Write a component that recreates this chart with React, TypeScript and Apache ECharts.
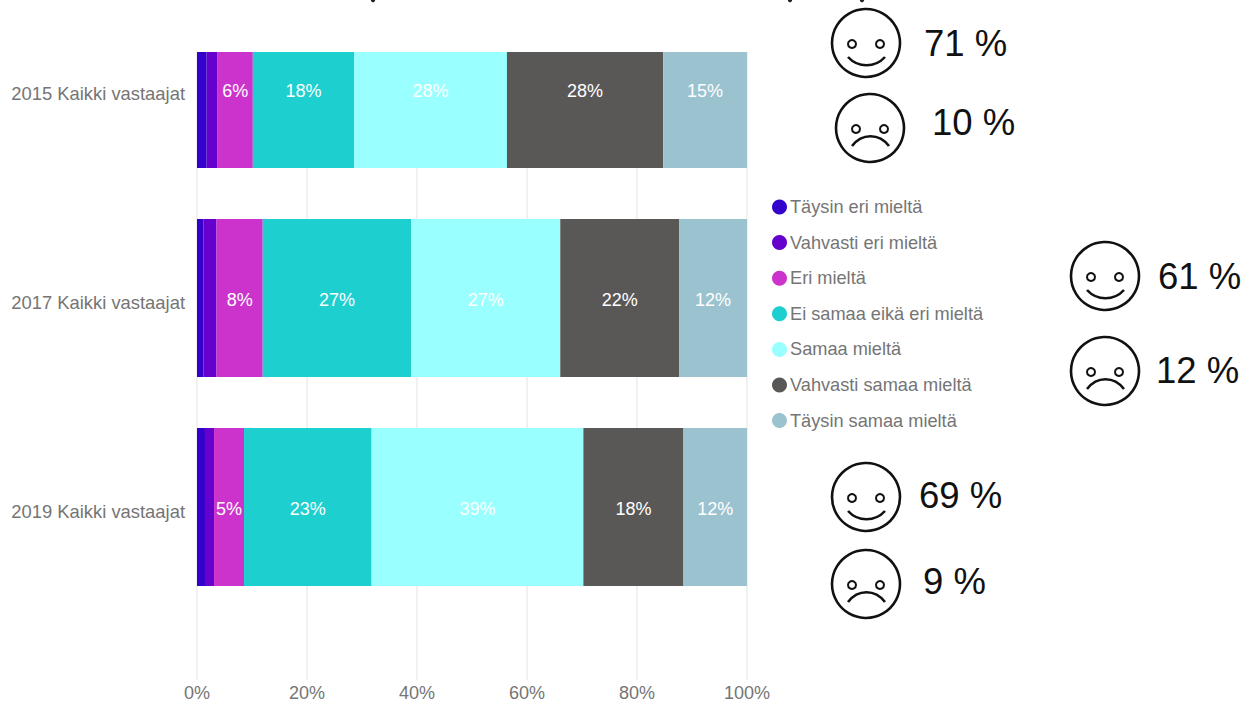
import React, { useEffect, useRef } from "react";
import * as echarts from "echarts";

const categories = ["2015 Kaikki vastaajat", "2017 Kaikki vastaajat", "2019 Kaikki vastaajat"];
const seriesNames = [
  "Täysin eri mieltä",
  "Vahvasti eri mieltä",
  "Eri mieltä",
  "Ei samaa eikä eri mieltä",
  "Samaa mieltä",
  "Vahvasti samaa mieltä",
  "Täysin samaa mieltä",
];
const taysinEri = [1.75, 1.2, 1.45];
const vahvastiEri = [2.0, 2.35, 1.65];
const eri = [6.4, 8.4, 5.45];
const eiSamaaEikaEri = [18.4, 27.0, 23.2];
const samaa = [27.8, 27.1, 38.5];
const vahvastiSamaa = [28.4, 21.6, 18.2];
const taysinSamaa = [15.25, 12.35, 11.55];
const seriesValues = [taysinEri, vahvastiEri, eri, eiSamaaEikaEri, samaa, vahvastiSamaa, taysinSamaa];
const seriesColors = ["#3300cc", "#6600cc", "#cc33cc", "#1dcfcf", "#99ffff", "#5a5857", "#9bc2cf"];

const faces = [
  { happy: true, cx: 866, cy: 43, text: "71 %", tx: 924, ty: 43 },
  { happy: false, cx: 870, cy: 128, text: "10 %", tx: 932, ty: 122 },
  { happy: true, cx: 1105, cy: 276, text: "61 %", tx: 1158, ty: 276 },
  { happy: false, cx: 1105, cy: 371, text: "12 %", tx: 1156, ty: 370 },
  { happy: true, cx: 866, cy: 497, text: "69 %", tx: 919, ty: 495 },
  { happy: false, cx: 866, cy: 584, text: "9 %", tx: 923, ty: 581 },
];

const faceElements = (f: (typeof faces)[number]) => {
  const line = { fill: "none", stroke: "#111", lineWidth: 2.6 };
  const my = f.happy ? 14 : 18;
  const cpy = f.happy ? 25 : 5;
  return [
    { type: "circle", z: 101, shape: { cx: f.cx, cy: f.cy, r: 34 }, style: { ...line } },
    { type: "circle", z: 101, shape: { cx: f.cx - 14, cy: f.cy + 1, r: 4 }, style: { ...line, lineWidth: 2 } },
    { type: "circle", z: 101, shape: { cx: f.cx + 14, cy: f.cy + 1, r: 4 }, style: { ...line, lineWidth: 2 } },
    {
      type: "bezierCurve",
      z: 101,
      shape: {
        x1: f.cx - 18,
        y1: f.cy + my,
        x2: f.cx + 19,
        y2: f.cy + my,
        cpx1: f.cx - 8,
        cpy1: f.cy + cpy,
        cpx2: f.cx + 9,
        cpy2: f.cy + cpy,
      },
      style: { ...line },
    },
    {
      type: "text",
      z: 101,
      x: f.tx,
      y: f.ty,
      style: {
        text: f.text,
        fill: "#111",
        font: "36.5px 'Liberation Sans'",
        textAlign: "left",
        textVerticalAlign: "middle",
      },
    },
  ];
};

export default function App() {
  const ref = useRef<HTMLDivElement>(null);
  useEffect(() => {
    const chart = echarts.init(ref.current!, undefined, { renderer: "svg" });
    const splitLine = { lineStyle: { color: "#ececec", width: 1.5 } };
    chart.setOption({
      animation: false,
      backgroundColor: "#fff",
      textStyle: { fontFamily: "'Liberation Sans'" },
      grid: [
        { left: 197, width: 550, top: -15.5, height: 627, outerBoundsMode: "none" },
        { left: 197, width: 550, top: 611.5, height: 68.5, outerBoundsMode: "none" },
      ],
      xAxis: [
        {
          type: "value",
          gridIndex: 0,
          min: 0,
          max: 100,
          interval: 20,
          axisLine: { show: false },
          axisTick: { show: false },
          axisLabel: { show: false },
          splitLine,
        },
        {
          type: "value",
          gridIndex: 1,
          min: 0,
          max: 100,
          interval: 20,
          axisLine: { show: false },
          axisTick: { show: false },
          axisLabel: { formatter: "{value}%", color: "#757575", fontSize: 18, margin: 4 },
          splitLine,
        },
      ],
      yAxis: [
        {
          type: "category",
          gridIndex: 0,
          data: categories,
          inverse: true,
          axisLine: { show: false },
          axisTick: { show: false },
          splitLine: { show: false },
          axisLabel: {
            color: "#757575",
            fontSize: 18.4,
            margin: 12,
            verticalAlign: "top",
            lineHeight: 9,
          },
        },
        {
          type: "value",
          gridIndex: 1,
          min: 0,
          max: 1,
          show: false,
          splitLine: { show: false },
        },
      ],
      legend: {
        orient: "vertical",
        left: 772,
        top: 198,
        padding: 0,
        icon: "circle",
        itemWidth: 15,
        itemHeight: 15,
        itemGap: 17.6,
        selectedMode: false,
        textStyle: { color: "#757575", fontSize: 18.2, padding: [0, 0, 0, -2] },
        data: seriesNames,
      },
      series: seriesNames.map((name, i) => ({
        name,
        type: "bar",
        xAxisIndex: 0,
        yAxisIndex: 0,
        stack: "total",
        barWidth: 158,
        itemStyle: { color: seriesColors[i] },
        label: {
          show: true,
          position: "inside",
          color: "#fff",
          fontSize: 18,
          offset: [0, 2],
          formatter: (p: { value: number }) => (p.value >= 5 ? Math.round(p.value) + "%" : ""),
        },
        data: seriesValues[i],
      })),
      graphic: [
        { type: "rect", z: 100, shape: { x: 185, y: 0, width: 575, height: 52 }, style: { fill: "#fff" } },
        { type: "circle", z: 101, shape: { cx: 373, cy: 0, r: 2.2 }, style: { fill: "#222" } },
        { type: "circle", z: 101, shape: { cx: 790, cy: 0, r: 2.2 }, style: { fill: "#222" } },
        { type: "circle", z: 101, shape: { cx: 862, cy: 0, r: 2.2 }, style: { fill: "#222" } },
        ...faces.flatMap(faceElements),
      ],
    });
    return () => chart.dispose();
  }, []);
  return <div ref={ref} style={{ position: "absolute", left: 0, top: 0, width: 1245, height: 702 }} />;
}
